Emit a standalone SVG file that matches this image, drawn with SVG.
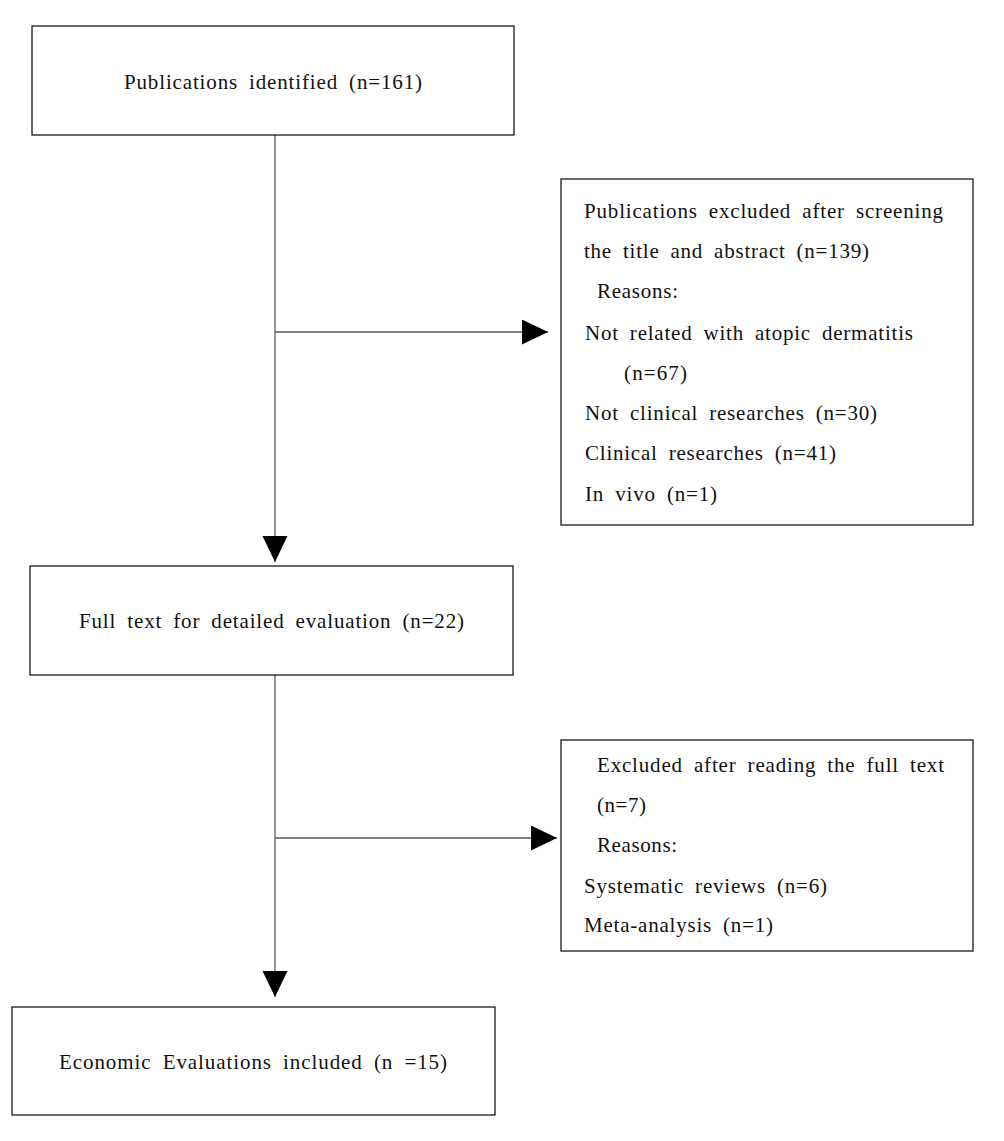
<svg xmlns="http://www.w3.org/2000/svg" width="1004" height="1141" viewBox="0 0 1004 1141">
  <style>
    .box { fill: #ffffff; stroke: #1a1a1a; stroke-width: 1.3; }
    .t { font-family: "Liberation Serif", "Times New Roman", serif; font-size: 21px; fill: #111111; word-spacing: 5px; }
    .conn { fill: none; stroke: #5a5a5a; stroke-width: 1.3; }
  </style>
  <defs>
    <marker id="arrow" markerUnits="userSpaceOnUse" markerWidth="26" markerHeight="26" refX="26" refY="12.5" orient="auto">
      <path d="M0,0 L26,12.5 L0,25 z" fill="#000000"/>
    </marker>
  </defs>
  <rect width="1004" height="1141" fill="#ffffff"/>

  <g id="connectors">
    <path class="conn" d="M275,135 V562" marker-end="url(#arrow)"/>
    <path class="conn" d="M275,332 H548" marker-end="url(#arrow)"/>
    <path class="conn" d="M275,675 V997" marker-end="url(#arrow)"/>
    <path class="conn" d="M275,838 H557" marker-end="url(#arrow)"/>
  </g>

  <g id="identified">
    <rect class="box" x="32" y="26" width="482" height="109"/>
    <text class="t" x="124" y="89" textLength="298" lengthAdjust="spacing">Publications identified (n=161)</text>
  </g>

  <g id="excluded-screening">
    <rect class="box" x="561" y="179" width="412" height="346"/>
    <text class="t" x="584" y="218" textLength="359" lengthAdjust="spacing">Publications excluded after screening</text>
    <text class="t" x="584" y="258" textLength="285" lengthAdjust="spacing">the title and abstract (n=139)</text>
    <text class="t" x="597" y="298" textLength="81" lengthAdjust="spacing">Reasons:</text>
    <text class="t" x="585" y="340" textLength="328" lengthAdjust="spacing">Not related with atopic dermatitis</text>
    <text class="t" x="624" y="380" textLength="63" lengthAdjust="spacing">(n=67)</text>
    <text class="t" x="585" y="420" textLength="292" lengthAdjust="spacing">Not clinical researches (n=30)</text>
    <text class="t" x="585" y="460" textLength="251" lengthAdjust="spacing">Clinical researches (n=41)</text>
    <text class="t" x="585" y="501" textLength="132" lengthAdjust="spacing">In vivo (n=1)</text>
  </g>

  <g id="full-text">
    <rect class="box" x="30" y="566" width="483" height="109"/>
    <text class="t" x="79" y="628" textLength="385" lengthAdjust="spacing">Full text for detailed evaluation (n=22)</text>
  </g>

  <g id="excluded-fulltext">
    <rect class="box" x="561" y="740" width="412" height="211"/>
    <text class="t" x="597" y="772" textLength="347" lengthAdjust="spacing">Excluded after reading the full text</text>
    <text class="t" x="597" y="812" textLength="49" lengthAdjust="spacing">(n=7)</text>
    <text class="t" x="597" y="852" textLength="80" lengthAdjust="spacing">Reasons:</text>
    <text class="t" x="584" y="893" textLength="243" lengthAdjust="spacing">Systematic reviews (n=6)</text>
    <text class="t" x="584" y="932" textLength="189" lengthAdjust="spacing">Meta-analysis (n=1)</text>
  </g>

  <g id="included">
    <rect class="box" x="12" y="1007" width="483" height="108"/>
    <text class="t" x="59" y="1069" textLength="388" lengthAdjust="spacing">Economic Evaluations included (n =15)</text>
  </g>
</svg>
